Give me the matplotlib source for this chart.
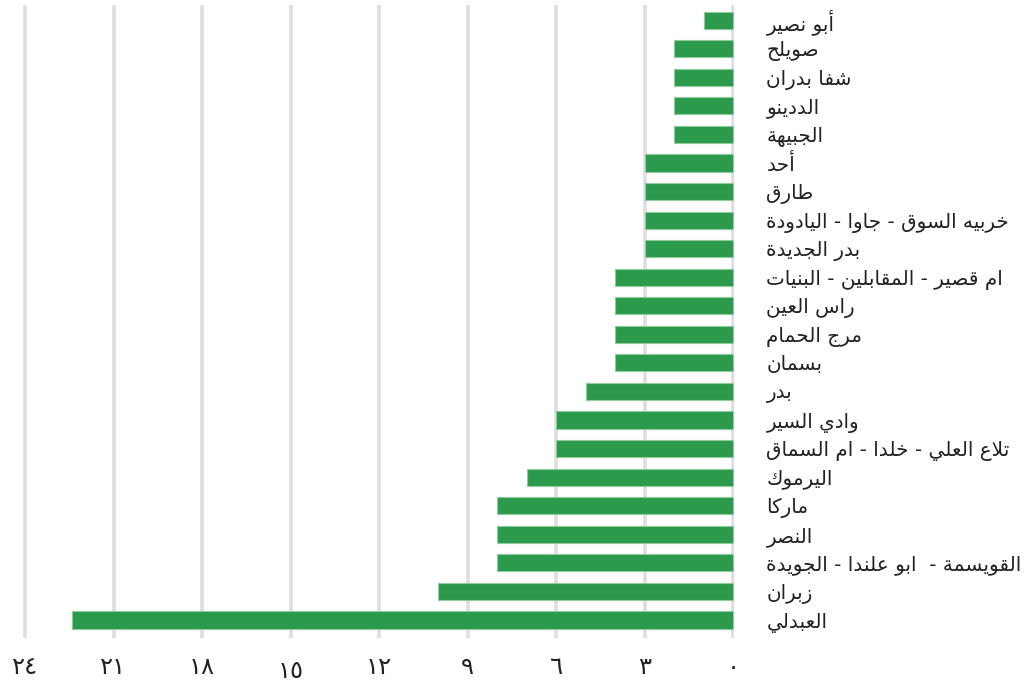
import matplotlib

matplotlib.use("Agg")
import matplotlib.pyplot as plt
import matplotlib.transforms as mtransforms

# categories, top to bottom as shown in the chart
areas = [
    "أبو نصير",
    "صويلح",
    "شفا بدران",
    "الددينو",
    "الجبيهة",
    "أحد",
    "طارق",
    "خربيه السوق - جاوا - اليادودة",
    "بدر الجديدة",
    "ام قصير - المقابلين - البنيات",
    "راس العين",
    "مرج الحمام",
    "بسمان",
    "بدر",
    "وادي السير",
    "تلاع العلي - خلدا - ام السماق",
    "اليرموك",
    "ماركا",
    "النصر",
    "القويسمة -  ابو علندا - الجويدة",
    "زبران",
    "العبدلي",
]
values = [1, 2, 2, 2, 2, 3, 3, 3, 3, 4, 4, 4, 4, 5, 6, 6, 7, 8, 8, 8, 10, 22.4]

x_ticks = [0, 3, 6, 9, 12, 15, 18, 21, 24]
x_tick_labels = ["٠", "٣", "٦", "٩", "١٢", "١٥", "١٨", "٢١", "٢٤"]

# matplotlib has no arabic shaping, so map letters to presentation forms
# (isolated, final, initial, medial) and reverse for right-to-left display
FORMS = {
    "ا": ("\uFE8D", "\uFE8E", None, None),
    "أ": ("\uFE83", "\uFE84", None, None),
    "ب": ("\uFE8F", "\uFE90", "\uFE91", "\uFE92"),
    "ة": ("\uFE93", "\uFE94", None, None),
    "ت": ("\uFE95", "\uFE96", "\uFE97", "\uFE98"),
    "ج": ("\uFE9D", "\uFE9E", "\uFE9F", "\uFEA0"),
    "ح": ("\uFEA1", "\uFEA2", "\uFEA3", "\uFEA4"),
    "خ": ("\uFEA5", "\uFEA6", "\uFEA7", "\uFEA8"),
    "د": ("\uFEA9", "\uFEAA", None, None),
    "ر": ("\uFEAD", "\uFEAE", None, None),
    "ز": ("\uFEAF", "\uFEB0", None, None),
    "س": ("\uFEB1", "\uFEB2", "\uFEB3", "\uFEB4"),
    "ش": ("\uFEB5", "\uFEB6", "\uFEB7", "\uFEB8"),
    "ص": ("\uFEB9", "\uFEBA", "\uFEBB", "\uFEBC"),
    "ط": ("\uFEC1", "\uFEC2", "\uFEC3", "\uFEC4"),
    "ع": ("\uFEC9", "\uFECA", "\uFECB", "\uFECC"),
    "ف": ("\uFED1", "\uFED2", "\uFED3", "\uFED4"),
    "ق": ("\uFED5", "\uFED6", "\uFED7", "\uFED8"),
    "ك": ("\uFED9", "\uFEDA", "\uFEDB", "\uFEDC"),
    "ل": ("\uFEDD", "\uFEDE", "\uFEDF", "\uFEE0"),
    "م": ("\uFEE1", "\uFEE2", "\uFEE3", "\uFEE4"),
    "ن": ("\uFEE5", "\uFEE6", "\uFEE7", "\uFEE8"),
    "ه": ("\uFEE9", "\uFEEA", "\uFEEB", "\uFEEC"),
    "و": ("\uFEED", "\uFEEE", None, None),
    "ي": ("\uFEF1", "\uFEF2", "\uFEF3", "\uFEF4"),
}
LAM_ALEF = {"ا": ("\uFEFB", "\uFEFC"), "أ": ("\uFEF7", "\uFEF8")}


def joins_next(c):
    return c in FORMS and FORMS[c][2] is not None


def shape(text):
    out = []
    n = len(text)
    i = 0
    while i < n:
        c = text[i]
        if c not in FORMS:
            out.append(c)
            i += 1
            continue
        link_prev = i > 0 and joins_next(text[i - 1])
        if c == "ل" and i + 1 < n and text[i + 1] in LAM_ALEF:
            iso, fin = LAM_ALEF[text[i + 1]]
            out.append(fin if link_prev else iso)
            i += 2
            continue
        link_next = joins_next(c) and i + 1 < n and text[i + 1] in FORMS
        iso, fin, ini, med = FORMS[c]
        if link_prev and link_next:
            out.append(med)
        elif link_prev:
            out.append(fin)
        elif link_next:
            out.append(ini)
        else:
            out.append(iso)
        i += 1
    return "".join(reversed(out))


plt.rcParams["font.family"] = ["DejaVu Sans"]

fig = plt.figure(figsize=(10.24, 6.84), dpi=100)
W, H = 1024.0, 684.0
px_per_unit = 29.5
x_left = 25 - 0.1 * px_per_unit
x_right = 733 + 0.05 * px_per_unit
ax = fig.add_axes([x_left / W, 1 - 638 / H, (x_right - x_left) / W, (638 - 5) / H])

ypos = list(range(len(areas)))
ax.barh(ypos, values, height=0.6, color="#2b9a4c", edgecolor="#8fcb9c",
        linewidth=0.8, zorder=3)

ax.set_xlim(24.1, -0.05)
ax.set_ylim(len(areas) - 1 + 0.63, -0.53)

ax.set_xticks(x_ticks)
ax.set_xticklabels(x_tick_labels, fontsize=17.5, color="#222222")
ax.tick_params(axis="x", length=0, pad=12)
ax.grid(axis="x", color="#dedede", linewidth=2.6, zorder=0)
ax.set_axisbelow(True)

ax.yaxis.tick_right()
ax.set_yticks(ypos)
ax.set_yticklabels([shape(a) for a in areas], fontsize=14.4, color="#222222")
ax.tick_params(axis="y", length=0, pad=23)

for s in ax.spines.values():
    s.set_visible(False)

# the "15" label sits lower in the original
for lbl in ax.get_xticklabels():
    if lbl.get_text() == "١٥":
        off = mtransforms.ScaledTranslation(0, -3 / 72.0, fig.dpi_scale_trans)
        lbl.set_transform(lbl.get_transform() + off)

fig.savefig("out.png", dpi=100)
